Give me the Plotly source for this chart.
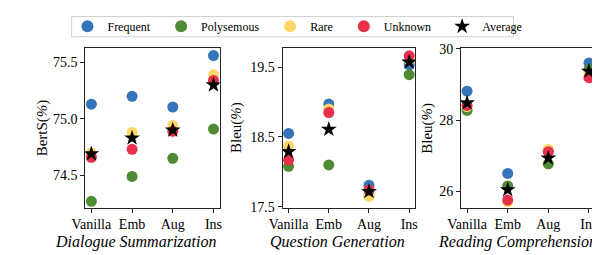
import plotly.graph_objects as go

methods = ["Vanilla", "Emb", "Aug", "Ins"]
series_names = ["Frequent", "Polysemous", "Rare", "Unknown", "Average"]
colors = ["#3574b8", "#4f8a35", "#fdd866", "#e8304a", "#000000"]

# Dialogue Summarization (BertS %)
ds_frequent = [75.13, 75.20, 75.105, 75.56]
ds_polysemous = [74.27, 74.49, 74.65, 74.91]
ds_rare = [74.70, 74.88, 74.94, 75.39]
ds_unknown = [74.66, 74.73, 74.89, 75.34]
ds_average = [74.69, 74.83, 74.90, 75.30]

# Question Generation (Bleu %)
qg_frequent = [18.55, 18.97, 17.81, 19.53]
qg_polysemous = [18.08, 18.10, 17.66, 19.39]
qg_rare = [18.37, 18.90, 17.65, 19.60]
qg_unknown = [18.17, 18.85, 17.74, 19.66]
qg_average = [18.29, 18.61, 17.72, 19.57]

# Reading Comprehension (Bleu %)
rc_frequent = [28.81, 26.50, 27.12, 29.60]
rc_polysemous = [28.27, 26.15, 26.77, 29.42]
rc_rare = [28.38, 25.70, 27.18, 29.30]
rc_unknown = [28.41, 25.75, 27.11, 29.19]
rc_average = [28.48, 26.04, 26.93, 29.37]

panels = [
    ("Dialogue Summarization", "BertS(<i>%</i>)",
     [ds_frequent, ds_polysemous, ds_rare, ds_unknown, ds_average],
     [74.5, 75.0, 75.5], ["74.5", "75.0", "75.5"], [74.214, 75.626]),
    ("Question Generation", "Bleu(<i>%</i>)",
     [qg_frequent, qg_polysemous, qg_rare, qg_unknown, qg_average],
     [17.5, 18.5, 19.5], ["17.5", "18.5", "19.5"], [17.49, 19.77]),
    ("Reading Comprehension", "Bleu(<i>%</i>)",
     [rc_frequent, rc_polysemous, rc_rare, rc_unknown, rc_average],
     [26, 28, 30], ["26", "28", "30"], [25.54, 30.02]),
]

W, H = 600, 255
x_domains_px = [(65, 203), (267.7, 404), (451, 588.7)]
title_cx_px = [116.5, 324, 509]
y_top_px, y_bot_px = 36, 204
ytitle_x_px = [21, 221, 417]

FONT = "Liberation Serif"

fig = go.Figure()
layout = dict(
    width=W, height=H,
    margin=dict(l=0, r=0, t=0, b=0),
    paper_bgcolor="white", plot_bgcolor="white",
    font=dict(family=FONT, size=14, color="black"),
    showlegend=True,
    legend=dict(
        orientation="h", x=46.7 / W, xanchor="left", y=1 - 13 / H, yanchor="middle",
        borderwidth=0, bgcolor="rgba(0,0,0,0)",
        font=dict(family=FONT, size=12, color="black"),
        itemsizing="constant",
    ),
)
annotations = []
# legend frame
shapes = [dict(type="rect", xref="paper", yref="paper",
               x0=51 / W, x1=505 / W, y0=1 - 24 / H, y1=1 - 2.7 / H,
               line=dict(color="#d0d0d0", width=1), fillcolor="white", layer="below")]

for i, (title, ytitle, vals, tv, tt, yr) in enumerate(panels):
    n = "" if i == 0 else str(i + 1)
    xa, ya = "xaxis" + n, "yaxis" + n
    x0, x1 = x_domains_px[i]
    layout[xa] = dict(
        domain=[x0 / W, x1 / W], anchor="y" + n,
        type="category", categoryorder="array", categoryarray=methods,
        range=[-0.15, 3.15],
        showgrid=False, zeroline=False,
        showline=True, mirror=True, linecolor="#222", linewidth=1,
        ticks="outside", ticklen=4, tickcolor="#222",
        tickfont=dict(family=FONT, size=14),
    )
    layout[ya] = dict(
        domain=[(H - y_bot_px) / H, (H - y_top_px) / H], anchor="x" + n,
        range=yr, tickvals=tv, ticktext=tt,
        showgrid=False, zeroline=False,
        showline=True, mirror=True, linecolor="#222", linewidth=1,
        ticks="outside", ticklen=4, tickcolor="#222",
        tickfont=dict(family=FONT, size=14),
    )
    for k, (name, col) in enumerate(zip(series_names, colors)):
        is_avg = name == "Average"
        fig.add_trace(go.Scatter(
            x=methods, y=vals[k], mode="markers", name=name + "\u00a0" * 2,
            xaxis="x" + n, yaxis="y" + n,
            showlegend=(i == 0),
            marker=dict(
                color=col,
                size=12 if is_avg else 11,
                symbol="star" if is_avg else "circle",
                line=dict(width=0),
            ),
        ))
    annotations.append(dict(
        text="<i>" + title + "</i>", xref="paper", yref="paper",
        x=title_cx_px[i] / W, y=(H - 240) / H, xanchor="center", yanchor="middle",
        showarrow=False, font=dict(family=FONT, size=16),
    ))
    annotations.append(dict(
        text=ytitle, xref="paper", yref="paper", textangle=-90,
        x=ytitle_x_px[i] / W, y=(H - 120) / H, xanchor="center", yanchor="middle",
        showarrow=False, font=dict(family=FONT, size=15),
    ))

layout["annotations"] = annotations
layout["shapes"] = shapes
fig.update_layout(**layout)
fig.write_html("out.html")
